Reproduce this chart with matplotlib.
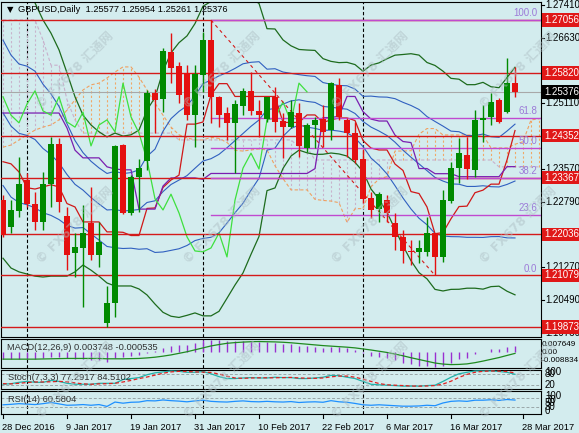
import numpy as np
import matplotlib
matplotlib.use('Agg')
import matplotlib.pyplot as plt
from matplotlib.transforms import blended_transform_factory as btf

W, H = 579, 433
BG = '#d3ecee'
plt.rcParams['font.family'] = ['Liberation Sans', 'Noto Sans CJK SC', 'DejaVu Sans']

# ---------------- data ----------------
tick_labels = ['28 Dec 2016', '9 Jan 2017', '19 Jan 2017', '31 Jan 2017', '10 Feb 2017',
               '22 Feb 2017', '6 Mar 2017', '16 Mar 2017', '28 Mar 2017']
tick_bars = [0, 8, 16, 24, 32, 40, 48, 56, 65]
month_sep_bars = [3, 25, 45]

opens = [1.2284, 1.2221, 1.2259, 1.2331, 1.2275, 1.2233, 1.2322, 1.2416, 1.2247, 1.2160,
         1.2172, 1.2230, 1.2156, 1.1996, 1.2043, 1.2413, 1.2254, 1.2338, 1.2376, 1.2535,
         1.2521, 1.2631, 1.2598, 1.2582, 1.2483, 1.2577, 1.2659, 1.2526, 1.2488, 1.2465,
         1.2504, 1.2540, 1.2493, 1.2474, 1.2526, 1.2469, 1.2455, 1.2488, 1.2406, 1.2460,
         1.2474, 1.2448, 1.2554, 1.2472, 1.2441, 1.2380, 1.2289, 1.2263, 1.2284, 1.2230,
         1.2198, 1.2165, 1.2163, 1.2163, 1.2207, 1.2151, 1.2282, 1.2359, 1.2390, 1.2355,
         1.2472, 1.2479, 1.2519, 1.2490, 1.25577]
highs = [1.2296, 1.2284, 1.2385, 1.2348, 1.2303, 1.2350, 1.2432, 1.2430, 1.2268, 1.2207,
         1.2273, 1.2315, 1.2233, 1.2083, 1.2413, 1.2415, 1.2343, 1.2380, 1.2542, 1.2544,
         1.2640, 1.2675, 1.2607, 1.2600, 1.2600, 1.2678, 1.27056, 1.2528, 1.2502, 1.2519,
         1.2547, 1.2584, 1.2519, 1.2526, 1.2549, 1.2488, 1.2519, 1.2511, 1.2465, 1.2479,
         1.2507, 1.2561, 1.2570, 1.2476, 1.2467, 1.2404, 1.2303, 1.2303, 1.2296, 1.2254,
         1.2214, 1.2191, 1.2191, 1.2245, 1.2207, 1.2308, 1.2373, 1.2430, 1.2432, 1.2495,
         1.2507, 1.2535, 1.2523, 1.2617, 1.25954]
lows = [1.2198, 1.2207, 1.2245, 1.2268, 1.2214, 1.2214, 1.2268, 1.2256, 1.2120, 1.2104,
        1.2034, 1.2144, 1.2127, 1.19873, 1.2010, 1.2252, 1.2249, 1.2256, 1.2355, 1.2441,
        1.2490, 1.2558, 1.2511, 1.2472, 1.2408, 1.2537, 1.2465, 1.2455, 1.2425, 1.2348,
        1.2483, 1.2483, 1.2432, 1.2467, 1.2444, 1.2383, 1.2453, 1.2385, 1.2397, 1.2406,
        1.2408, 1.2425, 1.2472, 1.2385, 1.2371, 1.2277, 1.2242, 1.2233, 1.2233, 1.2167,
        1.2137, 1.2132, 1.2137, 1.2153, 1.21079, 1.2139, 1.2277, 1.2324, 1.2333, 1.2338,
        1.2420, 1.2460, 1.2465, 1.2488, 1.25261]
closes = [1.2202, 1.2261, 1.2322, 1.2275, 1.2233, 1.2322, 1.2416, 1.2280, 1.2156, 1.2174,
          1.2207, 1.2156, 1.2186, 1.2043, 1.2411, 1.2254, 1.2338, 1.2359, 1.2535, 1.2519,
          1.2633, 1.2593, 1.2530, 1.2483, 1.2579, 1.2659, 1.2526, 1.2483, 1.2465, 1.2509,
          1.2540, 1.2493, 1.2483, 1.2526, 1.2467, 1.2455, 1.2490, 1.2411, 1.2460, 1.2472,
          1.2444, 1.2558, 1.2479, 1.2441, 1.2378, 1.2287, 1.2261, 1.2298, 1.2254, 1.2198,
          1.2165, 1.2163, 1.2172, 1.2207, 1.2151, 1.2284, 1.2359, 1.2394, 1.2357, 1.2472,
          1.2476, 1.2514, 1.2467, 1.2558, 1.25376]

# indicator values where the visible history is too short
tenkan_early = [1.2374, 1.2369, 1.2350, 1.2313, 1.2310, 1.2315, 1.2320, 1.2315]
kijun_early = [1.2488] * 8 + [1.2453, 1.2401, 1.2383, 1.2383, 1.2383, 1.2362, 1.2357, 1.2355,
                              1.2355, 1.2263, 1.2263, 1.2263, 1.2317, 1.2336, 1.2336, 1.2336, 1.2336]
bb_upper_early = [1.2829, 1.2790, 1.2765, 1.2760, 1.2746, 1.2706, 1.2675, 1.2636, 1.2582, 1.2526,
                  1.2483, 1.2460, 1.2444, 1.2432, 1.2441, 1.2434, 1.2437, 1.2448, 1.2495]
bb_lower_early = [1.2148, 1.2125, 1.2116, 1.2111, 1.2106, 1.2104, 1.2106, 1.2106, 1.2106, 1.2116,
                  1.2132, 1.2120, 1.2106, 1.2090, 1.2083, 1.2083, 1.2083, 1.2076, 1.2062]
span_a_early = [1.2408, 1.2413, 1.2425, 1.2437, 1.2448, 1.2455, 1.2460, 1.2472, 1.2495, 1.2519,
                1.2542, 1.2554, 1.2558, 1.2570, 1.2584, 1.2596, 1.2596, 1.2572, 1.2542, 1.2511,
                1.2483, 1.2455, 1.2437, 1.2430, 1.2425, 1.2425]
span_b = ([1.2706] * 5 + [1.2659, 1.2600, 1.2600, 1.2519, 1.2472, 1.2441, 1.2441] + [1.2441] * 10
          + [1.2425] * 15 + [1.2408] * 2 + [1.2378] * 23 + [1.2362] * 6)

red_levels = [1.27056, 1.25820, 1.24352, 1.23367, 1.22036, 1.21079, 1.19873]
axis_ticks = [1.27410, 1.26630, 1.25110, 1.23570, 1.22790, 1.21270, 1.20490, 1.19730]
last_price = 1.25376
fib_hi, fib_lo = 1.27056, 1.21079
fib_hi_bar, fib_lo_bar = 26, 54
fib_levels = [100.0, 61.8, 50.0, 38.2, 23.6, 0.0]

macd_hist = [-3.5, -3.8, -3.6, -3.6, -3.7, -3.4, -2.7, -2.6, -3.2, -3.6, -3.8, -4.2, -4.3, -5.5,
             -3.2, -2.8, -2.1, -1.5, -0.2, 0.8, 2.5, 3.6, 4.2, 4.4, 5.5, 6.8, 7.0, 6.8, 6.5, 6.5,
             6.6, 6.5, 6.1, 5.8, 5.4, 4.8, 4.6, 3.9, 3.6, 3.3, 2.8, 3.3, 3.0, 2.4, 1.5, -0.3,
             -1.8, -2.5, -3.2, -4.5, -5.8, -6.8, -7.5, -7.7, -8.3, -7.5, -5.8, -4.0, -3.0, -1.0,
             0.5, 1.8, 2.2, 3.2, 3.748]
macd_signal = [-3.8, -3.8, -3.8, -3.8, -3.8, -3.7, -3.6, -3.5, -3.4, -3.4, -3.4, -3.4, -3.4, -3.6,
               -3.6, -3.6, -3.5, -3.4, -3.1, -2.7, -2.1, -1.4, -0.5, 0.4, 1.5, 2.6, 3.7, 4.5, 5.2,
               5.6, 5.9, 6.1, 6.2, 6.1, 6.0, 5.8, 5.5, 5.1, 4.7, 4.3, 3.9, 3.6, 3.3, 3.0, 2.6, 2.0,
               1.4, 0.7, 0.0, -0.9, -1.9, -3.0, -4.0, -5.0, -6.0, -6.6, -6.9, -6.8, -6.5, -5.8,
               -4.9, -3.9, -2.9, -1.7, -0.535]
stoch_main = [25, 28, 35, 40, 35, 35, 45, 40, 30, 25, 25, 25, 30, 30, 30, 50, 55, 60, 75, 85, 90,
              95, 93, 88, 88, 92, 80, 65, 55, 55, 58, 60, 58, 58, 62, 60, 60, 55, 55, 58, 62,
              72, 70, 62, 55, 40, 25, 22, 20, 18, 15, 15, 15, 18, 20, 40, 62, 80, 88, 95, 95,
              95, 92, 88, 77.29]
stoch_signal = [28, 27, 30, 34, 37, 37, 38, 40, 38, 32, 27, 25, 27, 28, 30, 37, 45, 55, 63, 73, 83,
                90, 93, 92, 90, 89, 87, 79, 67, 58, 56, 58, 59, 59, 59, 60, 61, 58, 57, 56, 58,
                64, 68, 68, 62, 52, 40, 29, 22, 20, 18, 16, 15, 16, 18, 26, 41, 61, 77, 88, 93,
                95, 94, 92, 84.51]
rsi = [40, 42, 45, 43, 41, 45, 50, 44, 38, 39, 41, 38, 41, 33, 52, 47, 51, 52, 58, 57, 61,
       58, 56, 53, 57, 60, 55, 53, 52, 55, 57, 54, 53, 55, 53, 52, 54, 50, 52, 53, 51,
       58, 53, 51, 46, 40, 38, 40, 38, 36, 34, 34, 35, 38, 36, 48, 55, 57, 55, 60, 60,
       62, 59, 63, 60.58]

# ---------------- derived series ----------------
O, Hh, L, C = (np.array(v) for v in (opens, highs, lows, closes))
n = len(C)
bars = np.arange(n)


def dmid(i, k):
    return (Hh[i - k + 1:i + 1].max() + L[i - k + 1:i + 1].min()) / 2


tenkan = np.array(tenkan_early + [dmid(i, 9) for i in range(len(tenkan_early), n)])
kijun = np.array(kijun_early + [dmid(i, 26) for i in range(len(kijun_early), n)])
mid = np.zeros(n)
sd = np.zeros(n)
for i in range(n):
    if i < len(bb_upper_early):
        mid[i] = (bb_upper_early[i] + bb_lower_early[i]) / 2
        sd[i] = (bb_upper_early[i] - bb_lower_early[i]) / 4
    else:
        w = C[i - 19:i + 1]
        mid[i] = w.mean()
        sd[i] = w.std()
span_a = np.concatenate([span_a_early, (tenkan + kijun) / 2])
span_b_arr = np.array(span_b)
cloud_n = min(len(span_a), len(span_b_arr))

# ---------------- figure ----------------
fig = plt.figure(figsize=(W / 100, H / 100), dpi=100, facecolor=BG)


def rect(x0, y0, x1, y1):
    return [x0 / W, 1 - y1 / H, (x1 - x0) / W, (y1 - y0) / H]


def ftext(xp, yp, s, **kw):
    kw.setdefault('fontsize', 7)
    kw.setdefault('va', 'center')
    kw.setdefault('ha', 'left')
    return fig.text(xp / W, 1 - yp / H, s, **kw)


ax = fig.add_axes(rect(1, 2, 541, 337))
axm = fig.add_axes(rect(1, 339, 541, 368))
axs = fig.add_axes(rect(1, 370, 541, 389))
axr = fig.add_axes(rect(1, 391, 541, 414))
for a in (ax, axm, axs, axr):
    a.set_facecolor(BG)
    a.set_xlim(-0.25, 67.25)
    a.set_xticks([])
    a.set_yticks([])
    for s in a.spines.values():
        s.set_color('black')
        s.set_linewidth(0.8)
    for b in month_sep_bars:
        a.axvline(b, color='black', ls=(0, (3, 2)), lw=0.8, zorder=1)

YMIN, YMAX = 1.19635, 1.27480
ax.set_ylim(YMIN, YMAX)

# Ichimoku cloud
cb = np.arange(len(span_a))
for i in range(cloud_n):
    a_, b_ = span_a[i], span_b_arr[i]
    col = '#f0a868' if a_ >= b_ else '#c8b4cc'
    ax.vlines(i, min(a_, b_), max(a_, b_), colors=col, lw=0.8, linestyles=(0, (2, 2)), zorder=1.5)
ax.plot(cb, span_a, color='#f0a060', lw=0.8, ls=(0, (3, 2)), zorder=1.6)
ax.plot(np.arange(len(span_b_arr)), span_b_arr, color='#c8b0cc', lw=0.8, ls=(0, (3, 2)), zorder=1.6)

# Bollinger bands
ax.plot(bars, mid + 2 * sd, color='#1d6b1d', lw=0.9, zorder=2)
ax.plot(bars, mid - 2 * sd, color='#1d6b1d', lw=0.9, zorder=2)
ax.plot(bars, mid + sd, color='#3060c0', lw=0.8, zorder=2)
ax.plot(bars, mid - sd, color='#3060c0', lw=0.8, zorder=2)
ax.plot(bars, mid, color='#3060c0', lw=0.8, zorder=2)
# Ichimoku lines
ax.plot(bars, tenkan, color='#d01818', lw=0.9, zorder=3)
ax.plot(bars, kijun, color='#7a1fb0', lw=0.9, zorder=3)
ax.plot(bars[:n - 26], C[26:], color='#3ee03e', lw=0.9, zorder=3)

# horizontal levels
ax.axhline(last_price, color='#a8a8a8', lw=0.8, zorder=2)
for lv in red_levels:
    ax.axhline(lv, color='#d41a1a', lw=1.0, zorder=3)
for f in fib_levels:
    p = fib_lo + (fib_hi - fib_lo) * f / 100
    if f != 0.0:
        ax.plot([fib_hi_bar, 67.25], [p, p], color='#c04ad0', lw=1.0, zorder=4)
    ax.text(66.8, p + 0.0004, '%.1f' % f, color='#9c7ad8', fontsize=7, ha='right', va='bottom',
            zorder=6)
ax.plot([fib_hi_bar, fib_lo_bar], [fib_hi, fib_lo], color='#d41a1a', lw=0.8, ls=(0, (3, 3)), zorder=4)

# candles
up = C >= O
colors = np.where(up, '#008a00', '#e41010')
ax.vlines(bars, L, Hh, colors=colors, lw=1.0, zorder=5)
body_lo = np.minimum(O, C)
body_h = np.maximum(np.abs(C - O), 0.00008)
ax.bar(bars, body_h, bottom=body_lo, width=0.7, color=colors, linewidth=0, zorder=6)

# right price labels
tr = btf(ax.transAxes, ax.transData)
for t in axis_ticks:
    ax.text(1.0075, t, '%.5f' % t, transform=tr, fontsize=7, va='center', ha='left', color='black',
            clip_on=False)
    ax.plot([1.0, 1.006], [t, t], transform=tr, color='black', lw=0.8, clip_on=False)
for lv in red_levels:
    ax.text(1.006, lv, '%.5f' % lv, transform=tr, fontsize=7, va='center', ha='left', color='white',
            bbox=dict(boxstyle='square,pad=0.18', fc='#e01818', ec='none'), clip_on=False, zorder=8)
ax.text(1.006, last_price, '%.5f' % last_price, transform=tr, fontsize=7, va='center', ha='left',
        color='white', bbox=dict(boxstyle='square,pad=0.18', fc='black', ec='none'), clip_on=False, zorder=8)

ftext(7, 10, '▼', fontsize=6, family='DejaVu Sans')
ftext(18, 10, 'GBPUSD,Daily  1.25577 1.25954 1.25261 1.25376', fontsize=6.7)

# MACD
MN, MX = -0.008834, 0.007649
axm.set_ylim(MN, MX)
mh = np.array(macd_hist) / 1000
axm.vlines(bars, 0, mh, colors='#9a30d0', lw=1.0, zorder=2)
axm.plot(bars, np.array(macd_signal) / 1000, color='#1f8a1f', lw=0.9, zorder=3)
ftext(7, 348, 'MACD(12,26,9) 0.003748 -0.000535', fontsize=6.7, color='#303030')
for yp, s in [(344, '0.007649'), (352, '0.00'), (360, '-0.008834')]:
    ftext(542, yp, s, fontsize=5.9)

# Stochastic
axs.set_ylim(0, 100)
for lv in (80, 20):
    axs.axhline(lv, color='#9aa6a8', lw=0.7, ls=(0, (3, 2)))
axs.plot(bars, stoch_main, color='#20b2aa', lw=0.9, zorder=3)
axs.plot(bars, stoch_signal, color='#e02020', lw=0.9, ls=(0, (3, 2)), zorder=3)
ftext(8, 378, 'Stoch(7,3,3) 77.2917 84.5102', fontsize=6.7, color='#303030')
for yp, s in [(372, '100'), (374, '80'), (385, '20')]:
    ftext(545, yp, s, fontsize=7)

# RSI
axr.set_ylim(0, 100)
for lv in (70, 30):
    axr.axhline(lv, color='#9aa6a8', lw=0.7, ls=(0, (3, 2)))
axr.plot(bars, rsi, color='#1e90ff', lw=0.9, zorder=3)
ftext(8, 400, 'RSI(14) 60.5804', fontsize=6.7, color='#303030')
for yp, s in [(396, '100'), (400, '70'), (403, '50'), (407, '30'), (411, '0')]:
    ftext(545, yp, s, fontsize=7)

# date labels
for b, s in zip(tick_bars, tick_labels):
    xp = 3 + 8 * b
    ftext(xp - 1, 427, s, fontsize=6.7)
    fig.add_artist(plt.Line2D([xp / W, xp / W], [1 - 414 / H, 1 - 418 / H], color='black', lw=0.8))

# watermarks
for wy in (70, 225, 380):
    for wx in (75, 222, 370, 518):
        ftext(wx, wy, '© FX678 汇通网', fontsize=9, rotation=45, color='#aebfc4',
              alpha=0.5, ha='center', fontweight='bold', zorder=20,
              family=['DejaVu Sans', 'Noto Sans CJK SC'])

fig.savefig('out.png', dpi=100, facecolor=BG)
